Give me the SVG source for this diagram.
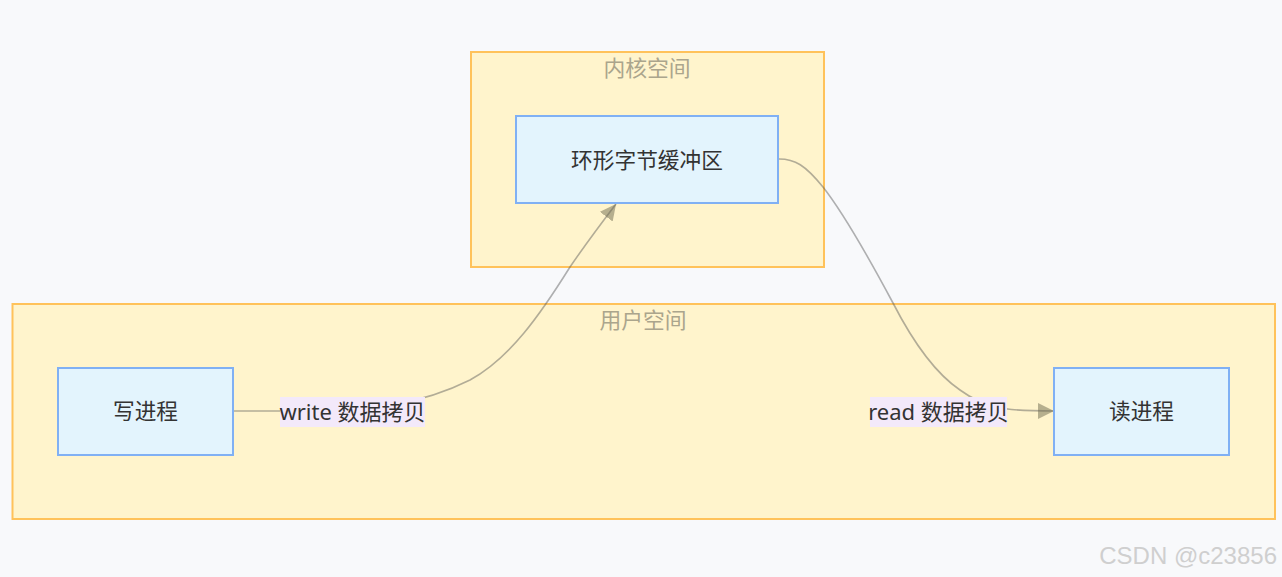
<svg xmlns="http://www.w3.org/2000/svg" width="1282" height="577" viewBox="0 0 1282 577">
<defs>
<style>
.cluster{fill:#fff4cc;stroke:#ffc25a;stroke-width:2}
.ctitle{font-family:"Noto Sans CJK SC","Noto Sans",sans-serif;font-size:21.8px;fill:#aba58c;text-anchor:middle}
.node{fill:#e3f4fd;stroke:#80b0f4;stroke-width:2}
.ntext{font-family:"Noto Sans CJK SC","Noto Sans",sans-serif;font-size:21.7px;fill:#333;text-anchor:middle;dominant-baseline:central}
.edge{fill:none;stroke:#555;stroke-opacity:0.45;stroke-width:1.6}
.lbg{fill:#f3e9fa}
.ltext{font-family:"Noto Sans","Noto Sans CJK SC",sans-serif;font-size:22px;fill:#333;text-anchor:middle;dominant-baseline:central}
</style>
<marker id="arrowL" viewBox="0 0 10 10" refX="10" refY="5" markerWidth="16" markerHeight="16" markerUnits="userSpaceOnUse" orient="auto">
<path d="M0,0 L10,5 L0,10 z" fill="#6e6a50" fill-opacity="0.5"/>
</marker>
</defs>
<rect width="1282" height="577" fill="#f8f9fb"/>
<g id="cluster-kernel">
<rect class="cluster" x="471" y="52" width="353" height="215"/>
<text class="ctitle" x="647" y="76">内核空间</text>
</g>
<g id="cluster-user">
<rect class="cluster" x="12.5" y="304" width="1262.5" height="215"/>
<text class="ctitle" x="643" y="328">用户空间</text>
</g>
<g id="connectors">
<path class="edge" d="M233,411 L300,411 C370,411 420,405 470,380 C510,358 540,315 570,267 C585,245 600,225 616,204" marker-end="url(#arrowL)"/>
<path class="edge" d="M779,159 C795,159 805,165 823,187 C845,215 870,260 893,303 C912,340 935,373 960,390 C985,408 1000,411 1054,411" marker-end="url(#arrowL)"/>
</g>
<g id="label-write">
<rect class="lbg" x="280" y="397" width="145" height="30"/>
<text class="ltext" x="352.5" y="410.5">write 数据拷贝</text>
</g>
<g id="label-read">
<rect class="lbg" x="870" y="397" width="137" height="30"/>
<text class="ltext" x="938.5" y="410.5">read 数据拷贝</text>
</g>
<g id="node-ring">
<rect class="node" x="516" y="116" width="262" height="87"/>
<text class="ntext" x="647" y="158.5">环形字节缓冲区</text>
</g>
<g id="node-write">
<rect class="node" x="58" y="368" width="175" height="87"/>
<text class="ntext" x="145.5" y="409.5">写进程</text>
</g>
<g id="node-read">
<rect class="node" x="1054" y="368" width="175" height="87"/>
<text class="ntext" x="1141.5" y="409.5">读进程</text>
</g>
<text x="1277" y="564" font-family="Liberation Sans, Arial, sans-serif" font-size="24" fill="#cfcfcf" text-anchor="end">CSDN @c23856</text>
</svg>
